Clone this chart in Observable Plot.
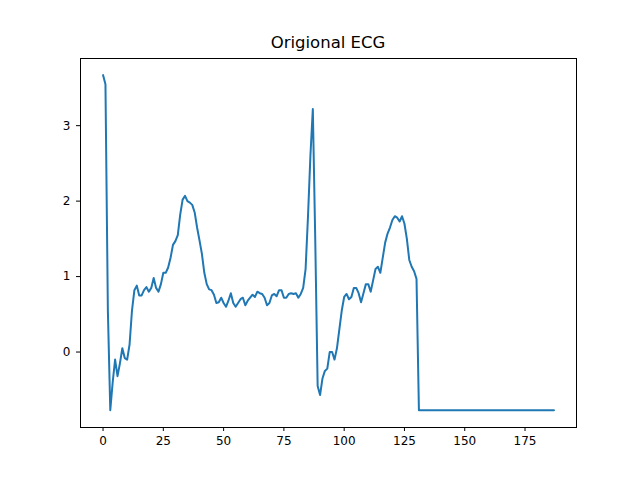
<!DOCTYPE html>
<html><head><meta charset="utf-8">
<script src="https://cdn.jsdelivr.net/npm/d3@7"></script>
<script src="https://cdn.jsdelivr.net/npm/@observablehq/plot@0.6"></script>
<style>
body{margin:0;background:#fff;font-family:"DejaVu Sans",sans-serif;}
#t{height:54px;line-height:20px;padding-top:33px;box-sizing:border-box;text-align:center;font-size:16.5px;padding-left:16px;}
</style></head><body>
<div id="t">Origional ECG</div>
<div id="c"></div>
<script>
const title = "Origional ECG";
const values = [3.67,3.55,0.55,-0.77,-0.4,-0.1,-0.32,-0.15,0.05,-0.08,
-0.1,0.1,0.55,0.82,0.88,0.75,0.75,0.82,0.86,0.8,
0.85,0.98,0.85,0.8,0.9,1.05,1.05,1.12,1.25,1.42,
1.47,1.55,1.82,2.02,2.07,2.0,1.98,1.95,1.85,1.65,
1.48,1.3,1.05,0.9,0.83,0.82,0.76,0.65,0.66,0.72,
0.65,0.6,0.68,0.78,0.65,0.6,0.65,0.7,0.72,0.62,
0.68,0.72,0.76,0.73,0.8,0.78,0.77,0.72,0.62,0.65,
0.75,0.77,0.74,0.82,0.82,0.72,0.72,0.77,0.78,0.77,
0.78,0.72,0.77,0.85,1.1,1.8,2.6,3.22,1.5,-0.45,
-0.57,-0.35,-0.25,-0.22,0.0,0.0,-0.1,0.05,0.3,0.55,
0.73,0.77,0.7,0.73,0.85,0.85,0.78,0.66,0.78,0.9,
0.9,0.8,0.95,1.1,1.13,1.05,1.25,1.45,1.57,1.65,
1.75,1.8,1.78,1.73,1.8,1.7,1.5,1.22,1.13,1.07,0.97];
while (values.length < 188) values.push(-0.77);
const xTicks = [0,25,50,75,100,125,150,175];
const yTicks = [0,1,2,3];
const data = values.map((v,i)=>({i,v}));
const chart = Plot.plot({
  width:640, height:426,
  marginLeft:80, marginRight:64, marginTop:4, marginBottom:53,
  style:{fontFamily:"DejaVu Sans, sans-serif", fontSize:"12px", color:"#000"},
  x:{domain:[-9.35,196.35], label:null},
  y:{domain:[-1.0,3.89], label:null},
  marks:[
    Plot.frame({stroke:"#000", strokeWidth:1}),
    Plot.axisX({ticks:xTicks, tickFormat:"d", label:null, tickSize:4, tickPadding:5}),
    Plot.axisY({ticks:yTicks, tickFormat:"d", label:null, tickSize:4, tickPadding:6}),
    Plot.line(data,{x:"i",y:"v",stroke:"#1f77b4",strokeWidth:2})
  ]
});
document.getElementById("c").appendChild(chart);
</script></body></html>
